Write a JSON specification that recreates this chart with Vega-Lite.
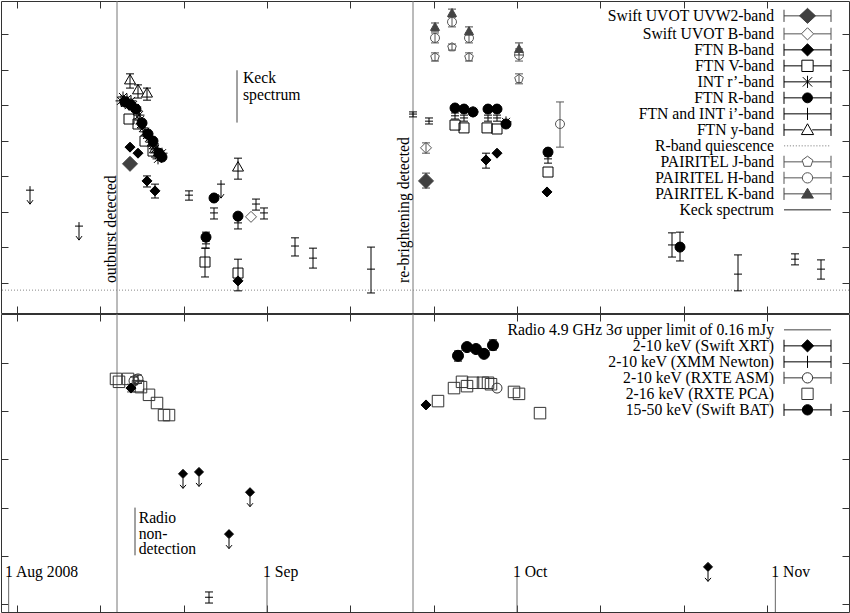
{
"$schema":"https://vega.github.io/schema/vega-lite/v6.json",
"padding":0,
"spacing":1,
"bounds":"flush",
"background":"white",
"config":{"view":{"stroke":"#333","strokeWidth":1},"axis":{"minExtent":0},"font":"Liberation Serif"},
"datasets":{
"top":[
{"s":"Swift UVOT UVW2-band","t":54693.56,"m":16.65},
{"s":"Swift UVOT UVW2-band","t":54729.08,"m":17.13,"lo":16.91,"hi":17.33},
{"s":"Swift UVOT B-band","t":54708.08,"m":18.14},
{"s":"Swift UVOT B-band","t":54729.08,"m":16.2,"lo":16.06,"hi":16.35},
{"s":"FTN V-band","t":54693.44,"m":15.39},
{"s":"FTN V-band","t":54694.52,"m":15.53},
{"s":"FTN V-band","t":54695.36,"m":16.01},
{"s":"FTN V-band","t":54696.32,"m":16.29},
{"s":"FTN V-band","t":54702.56,"m":19.41,"lo":19.02,"hi":19.83},
{"s":"FTN V-band","t":54706.52,"m":19.72,"lo":19.33,"hi":20.22},
{"s":"FTN V-band","t":54732.56,"m":15.56},
{"s":"FTN V-band","t":54733.64,"m":15.64},
{"s":"FTN V-band","t":54736.4,"m":15.64},
{"s":"FTN V-band","t":54737.6,"m":15.67},
{"s":"FTN V-band","t":54743.72,"m":16.88},
{"s":"INT r’-band","t":54692.48,"m":14.88},
{"s":"INT r’-band","t":54692.72,"m":14.77},
{"s":"INT r’-band","t":54692.96,"m":14.94},
{"s":"INT r’-band","t":54693.2,"m":14.83},
{"s":"INT r’-band","t":54693.44,"m":15.0},
{"s":"INT r’-band","t":54693.68,"m":14.88},
{"s":"INT r’-band","t":54693.92,"m":15.0},
{"s":"INT r’-band","t":54694.16,"m":15.08},
{"s":"INT r’-band","t":54694.4,"m":15.16},
{"s":"INT r’-band","t":54694.64,"m":15.28},
{"s":"INT r’-band","t":54694.76,"m":15.42},
{"s":"INT r’-band","t":54694.88,"m":15.53},
{"s":"INT r’-band","t":54695.12,"m":15.64},
{"s":"INT r’-band","t":54695.36,"m":15.75},
{"s":"INT r’-band","t":54695.6,"m":15.84},
{"s":"INT r’-band","t":54695.84,"m":15.92},
{"s":"INT r’-band","t":54696.08,"m":16.04},
{"s":"INT r’-band","t":54696.32,"m":16.12},
{"s":"INT r’-band","t":54696.56,"m":16.23},
{"s":"INT r’-band","t":54696.8,"m":16.32},
{"s":"INT r’-band","t":54697.04,"m":16.4},
{"s":"INT r’-band","t":54697.28,"m":16.46},
{"s":"INT r’-band","t":54697.4,"m":16.35},
{"s":"INT r’-band","t":54696.92,"m":16.51},
{"s":"INT r’-band","t":54734.72,"m":15.19},
{"s":"INT r’-band","t":54738.68,"m":15.47},
{"s":"FTN R-band","t":54692.96,"m":14.91},
{"s":"FTN R-band","t":54693.68,"m":15.0},
{"s":"FTN R-band","t":54694.28,"m":15.11},
{"s":"FTN R-band","t":54695.0,"m":15.5},
{"s":"FTN R-band","t":54695.72,"m":15.81},
{"s":"FTN R-band","t":54696.32,"m":16.01},
{"s":"FTN R-band","t":54697.04,"m":16.35},
{"s":"FTN R-band","t":54697.4,"m":16.46},
{"s":"FTN R-band","t":54702.68,"m":18.71,"lo":18.57,"hi":18.82},
{"s":"FTN R-band","t":54703.64,"m":17.61},
{"s":"FTN R-band","t":54706.52,"m":18.12},
{"s":"FTN R-band","t":54732.56,"m":15.08},
{"s":"FTN R-band","t":54733.64,"m":15.11},
{"s":"FTN R-band","t":54734.72,"m":15.19},
{"s":"FTN R-band","t":54736.52,"m":15.11},
{"s":"FTN R-band","t":54737.6,"m":15.11},
{"s":"FTN R-band","t":54738.68,"m":15.53},
{"s":"FTN R-band","t":54743.72,"m":16.32},
{"s":"FTN R-band","t":54759.56,"m":18.99,"lo":18.57,"hi":19.38},
{"s":"FTN B-band","t":54693.56,"m":16.18},
{"s":"FTN B-band","t":54694.52,"m":16.35},
{"s":"FTN B-band","t":54695.6,"m":17.13,"lo":16.99,"hi":17.3},
{"s":"FTN B-band","t":54696.56,"m":17.41,"lo":17.22,"hi":17.61},
{"s":"FTN B-band","t":54706.52,"m":19.94},
{"s":"FTN B-band","t":54736.28,"m":16.54,"lo":16.35,"hi":16.77},
{"s":"FTN B-band","t":54737.6,"m":16.35},
{"s":"FTN B-band","t":54743.6,"m":17.44},
{"s":"FTN and INT i’-band","t":54700.64,"m":17.53,"lo":17.41,"hi":17.67},
{"s":"FTN and INT i’-band","t":54703.64,"m":18.03,"lo":17.89,"hi":18.2},
{"s":"FTN and INT i’-band","t":54702.68,"m":18.9,"lo":18.79,"hi":19.02},
{"s":"FTN and INT i’-band","t":54706.52,"m":18.31,"lo":18.2,"hi":18.48},
{"s":"FTN and INT i’-band","t":54708.68,"m":17.78,"lo":17.64,"hi":17.95},
{"s":"FTN and INT i’-band","t":54709.64,"m":18.03,"lo":17.89,"hi":18.2},
{"s":"FTN and INT i’-band","t":54713.36,"m":18.96,"lo":18.73,"hi":19.24},
{"s":"FTN and INT i’-band","t":54715.52,"m":19.3,"lo":19.02,"hi":19.58},
{"s":"FTN and INT i’-band","t":54722.48,"m":19.61,"lo":18.99,"hi":20.28},
{"s":"FTN and INT i’-band","t":54727.52,"m":15.25,"lo":15.19,"hi":15.33},
{"s":"FTN and INT i’-band","t":54729.44,"m":15.45,"lo":15.36,"hi":15.53},
{"s":"FTN and INT i’-band","t":54732.56,"m":15.3,"lo":15.22,"hi":15.39},
{"s":"FTN and INT i’-band","t":54733.64,"m":15.36,"lo":15.28,"hi":15.45},
{"s":"FTN and INT i’-band","t":54736.52,"m":15.36,"lo":15.28,"hi":15.45},
{"s":"FTN and INT i’-band","t":54737.6,"m":15.36,"lo":15.28,"hi":15.45},
{"s":"FTN and INT i’-band","t":54743.72,"m":16.51,"lo":16.43,"hi":16.63},
{"s":"FTN and INT i’-band","t":54758.6,"m":18.93,"lo":18.59,"hi":19.27},
{"s":"FTN and INT i’-band","t":54766.52,"m":19.75,"lo":19.21,"hi":20.22},
{"s":"FTN and INT i’-band","t":54773.36,"m":19.33,"lo":19.18,"hi":19.49},
{"s":"FTN and INT i’-band","t":54776.48,"m":19.61,"lo":19.35,"hi":19.89},
{"s":"FTN and INT i’-band","t":54681.56,"m":17.39,"ul":true},
{"s":"FTN and INT i’-band","t":54687.44,"m":18.4,"ul":true},
{"s":"FTN and INT i’-band","t":54704.48,"m":17.22,"ul":true},
{"s":"FTN y-band","t":54693.56,"m":14.29,"lo":14.12,"hi":14.52},
{"s":"FTN y-band","t":54694.52,"m":14.57,"lo":14.43,"hi":14.8},
{"s":"FTN y-band","t":54695.6,"m":14.66,"lo":14.52,"hi":14.86},
{"s":"FTN y-band","t":54696.56,"m":16.23,"lo":16.09,"hi":16.46},
{"s":"FTN y-band","t":54706.52,"m":16.74,"lo":16.49,"hi":17.08},
{"s":"PAIRITEL J-band","t":54730.16,"m":13.65,"lo":13.53,"hi":13.76},
{"s":"PAIRITEL J-band","t":54732.2,"m":13.37,"lo":13.28,"hi":13.45},
{"s":"PAIRITEL J-band","t":54734.24,"m":13.65,"lo":13.53,"hi":13.76},
{"s":"PAIRITEL J-band","t":54740.24,"m":14.26,"lo":14.12,"hi":14.4},
{"s":"PAIRITEL H-band","t":54730.16,"m":13.11,"lo":12.97,"hi":13.25},
{"s":"PAIRITEL H-band","t":54732.2,"m":12.66,"lo":12.52,"hi":12.8},
{"s":"PAIRITEL H-band","t":54734.24,"m":13.11,"lo":12.97,"hi":13.25},
{"s":"PAIRITEL H-band","t":54740.24,"m":13.59,"lo":13.42,"hi":13.76},
{"s":"PAIRITEL H-band","t":54745.16,"m":15.53,"lo":14.91,"hi":16.18},
{"s":"PAIRITEL K-band","t":54730.16,"m":12.8,"lo":12.69,"hi":12.92},
{"s":"PAIRITEL K-band","t":54732.2,"m":12.41,"lo":12.3,"hi":12.52},
{"s":"PAIRITEL K-band","t":54734.24,"m":12.92,"lo":12.8,"hi":13.03},
{"s":"PAIRITEL K-band","t":54740.24,"m":13.42,"lo":13.25,"hi":13.59}
],
"bottom":[
{"s":"2-16 keV (RXTE PCA)","t":54691.88,"f":-8.33},
{"s":"2-16 keV (RXTE PCA)","t":54692.24,"f":-8.39},
{"s":"2-16 keV (RXTE PCA)","t":54693.32,"f":-8.33},
{"s":"2-16 keV (RXTE PCA)","t":54694.52,"f":-8.48},
{"s":"2-16 keV (RXTE PCA)","t":54694.88,"f":-8.5},
{"s":"2-16 keV (RXTE PCA)","t":54695.84,"f":-8.66},
{"s":"2-16 keV (RXTE PCA)","t":54696.8,"f":-8.83},
{"s":"2-16 keV (RXTE PCA)","t":54697.64,"f":-9.08},
{"s":"2-16 keV (RXTE PCA)","t":54698.24,"f":-9.08},
{"s":"2-16 keV (RXTE PCA)","t":54730.52,"f":-8.79},
{"s":"2-16 keV (RXTE PCA)","t":54732.44,"f":-8.52},
{"s":"2-16 keV (RXTE PCA)","t":54733.4,"f":-8.39},
{"s":"2-16 keV (RXTE PCA)","t":54734.0,"f":-8.48},
{"s":"2-16 keV (RXTE PCA)","t":54734.72,"f":-8.41},
{"s":"2-16 keV (RXTE PCA)","t":54735.92,"f":-8.41},
{"s":"2-16 keV (RXTE PCA)","t":54736.52,"f":-8.41},
{"s":"2-16 keV (RXTE PCA)","t":54736.88,"f":-8.44},
{"s":"2-16 keV (RXTE PCA)","t":54739.64,"f":-8.6},
{"s":"2-16 keV (RXTE PCA)","t":54740.24,"f":-8.64},
{"s":"2-16 keV (RXTE PCA)","t":54742.76,"f":-9.04},
{"s":"2-10 keV (RXTE ASM)","t":54694.04,"f":-8.37,"lo":-8.45,"hi":-8.29},
{"s":"2-10 keV (RXTE ASM)","t":54694.52,"f":-8.33,"lo":-8.42,"hi":-8.25},
{"s":"2-10 keV (RXTE ASM)","t":54737.6,"f":-8.52},
{"s":"2-10 keV (Swift XRT)","t":54693.68,"f":-8.52,"lo":-8.6,"hi":-8.44},
{"s":"2-10 keV (Swift XRT)","t":54729.08,"f":-8.87},
{"s":"2-10 keV (Swift XRT)","t":54699.92,"f":-10.3,"ul":true},
{"s":"2-10 keV (Swift XRT)","t":54701.84,"f":-10.26,"ul":true},
{"s":"2-10 keV (Swift XRT)","t":54705.44,"f":-11.55,"ul":true},
{"s":"2-10 keV (Swift XRT)","t":54707.96,"f":-10.68,"ul":true},
{"s":"2-10 keV (Swift XRT)","t":54762.92,"f":-12.23,"ul":true},
{"s":"2-10 keV (XMM Newton)","t":54703.04,"f":-12.86,"lo":-12.98,"hi":-12.75},
{"s":"15-50 keV (Swift BAT)","t":54732.92,"f":-7.85,"lo":-7.96,"hi":-7.75},
{"s":"15-50 keV (Swift BAT)","t":54734.0,"f":-7.67},
{"s":"15-50 keV (Swift BAT)","t":54735.08,"f":-7.71},
{"s":"15-50 keV (Swift BAT)","t":54736.04,"f":-7.81},
{"s":"15-50 keV (Swift BAT)","t":54737.12,"f":-7.63,"lo":-7.73,"hi":-7.52}
]
},
"vconcat":[
{
"width":848,"height":312,
"resolve":{"scale":{"shape":"independent","fill":"independent","stroke":"independent"},"axis":{"x":"independent","y":"independent"}},
"layer":[
{"data":{"values":[{"event":"outburst detected","t":54692.0},{"event":"re-brightening detected","t":54727.52}]},
 "mark":{"type":"rule","color":"#777","strokeWidth":1},
 "encoding":{"x":{"field":"t","type":"quantitative","scale":{"domain":[54678.08,54779.84],"nice":false,"zero":false},"axis":{"orient":"bottom","values":[54680,54690,54700,54710,54720,54730,54740,54750,54760,54770],"labels":false,"domain":false,"grid":false,"tickSize":-7,"tickColor":"#333","title":null}}}},
{"data":{"values":[{"level":"R-band quiescence","m":20.2}]},
 "mark":{"type":"rule","color":"#888","strokeDash":[1,2],"strokeWidth":1},
 "encoding":{"y":{"field":"m","type":"quantitative","scale":{"domain":[12.072,20.843],"reverse":true,"nice":false,"zero":false},"axis":{"orient":"left","values":[13,14,15,16,17,18,19,20],"labels":false,"domain":false,"grid":false,"tickSize":-7,"tickColor":"#333","title":null}}}},
{"data":{"name":"top"},
 "transform":[{"filter":"isValid(datum.lo)"}],
 "mark":{"type":"rule","strokeWidth":1},
 "encoding":{
  "x":{"field":"t","type":"quantitative","scale":{"domain":[54678.08,54779.84],"nice":false,"zero":false},"axis":{"orient":"top","values":[54680,54690,54700,54710,54720,54730,54740,54750,54760,54770],"labels":false,"domain":false,"grid":false,"tickSize":-7,"tickColor":"#333","title":null}},
  "y":{"field":"lo","type":"quantitative","scale":{"domain":[12.072,20.843],"reverse":true,"nice":false,"zero":false},"axis":{"orient":"right","values":[13,14,15,16,17,18,19,20],"labels":false,"domain":false,"grid":false,"tickSize":-7,"tickColor":"#333","title":null}},
  "y2":{"field":"hi"},
  "color":{"field":"s","type":"nominal","scale":{"domain":["Swift UVOT UVW2-band","Swift UVOT B-band","FTN B-band","FTN V-band","INT r’-band","FTN R-band","FTN and INT i’-band","FTN y-band","R-band quiescence","PAIRITEL J-band","PAIRITEL H-band","PAIRITEL K-band","Keck spectrum"],"range":["#404040","#555","black","black","black","black","black","black","#888","#555","#555","#444","#222"]},"legend":null}}},
{"data":{"name":"top"},
 "transform":[{"filter":"isValid(datum.lo)"},{"fold":["lo","hi"],"as":["end","val"]}],
 "mark":{"type":"tick","orient":"horizontal","size":8,"thickness":1,"opacity":1},
 "encoding":{
  "x":{"field":"t","type":"quantitative","scale":{"domain":[54678.08,54779.84],"nice":false,"zero":false},"axis":null},
  "y":{"field":"val","type":"quantitative","scale":{"domain":[12.072,20.843],"reverse":true,"nice":false,"zero":false},"axis":null},
  "color":{"field":"s","type":"nominal","scale":{"domain":["Swift UVOT UVW2-band","Swift UVOT B-band","FTN B-band","FTN V-band","INT r’-band","FTN R-band","FTN and INT i’-band","FTN y-band","R-band quiescence","PAIRITEL J-band","PAIRITEL H-band","PAIRITEL K-band","Keck spectrum"],"range":["#404040","#555","black","black","black","black","black","black","#888","#555","#555","#444","#222"]},"legend":null}}},
{"data":{"name":"top"},
 "transform":[{"filter":"!datum.ul"}],
 "mark":{"type":"point","filled":true,"opacity":1,"size":100,"strokeWidth":1},
 "encoding":{
  "x":{"field":"t","type":"quantitative","scale":{"domain":[54678.08,54779.84],"nice":false,"zero":false},"axis":null},
  "y":{"field":"m","type":"quantitative","scale":{"domain":[12.072,20.843],"reverse":true,"nice":false,"zero":false},"axis":null},
  "shape":{"field":"s","type":"nominal","scale":{"domain":["Swift UVOT UVW2-band","Swift UVOT B-band","FTN B-band","FTN V-band","INT r’-band","FTN R-band","FTN and INT i’-band","FTN y-band","R-band quiescence","PAIRITEL J-band","PAIRITEL H-band","PAIRITEL K-band","Keck spectrum"],"range":["M0,-1.5L1.5,0L0,1.5L-1.5,0Z","M0,-1.1L1.1,0L0,1.1L-1.1,0Z","M0,-1L1,0L0,1L-1,0Z","M-1,-1H1V1H-1Z","M0,-1.1V1.1M-1.1,0H1.1M-0.8,-0.8L0.8,0.8M-0.8,0.8L0.8,-0.8","M1,0A1,1,0,1,1,-1,0A1,1,0,1,1,1,0Z","M-0.8,0H0.8","M0,-1.1L1.1,0.8H-1.1Z","M0,0","M0,-0.9L0.86,-0.28L0.53,0.73L-0.53,0.73L-0.86,-0.28Z","M0.9,0A0.9,0.9,0,1,1,-0.9,0A0.9,0.9,0,1,1,0.9,0Z","M0,-0.9L0.9,0.7H-0.9Z","M0,0"]},"legend":null},
  "fill":{"field":"s","type":"nominal","scale":{"domain":["Swift UVOT UVW2-band","Swift UVOT B-band","FTN B-band","FTN V-band","INT r’-band","FTN R-band","FTN and INT i’-band","FTN y-band","R-band quiescence","PAIRITEL J-band","PAIRITEL H-band","PAIRITEL K-band","Keck spectrum"],"range":["#404040","transparent","black","transparent","transparent","black","transparent","transparent","transparent","transparent","transparent","#444","transparent"]},"legend":null},
  "stroke":{"field":"s","type":"nominal","scale":{"domain":["Swift UVOT UVW2-band","Swift UVOT B-band","FTN B-band","FTN V-band","INT r’-band","FTN R-band","FTN and INT i’-band","FTN y-band","R-band quiescence","PAIRITEL J-band","PAIRITEL H-band","PAIRITEL K-band","Keck spectrum"],"range":["#404040","#555","black","black","black","black","black","black","#888","#555","#555","#444","#222"]},"legend":null}}},
{"data":{"name":"top"},
 "transform":[{"filter":"datum.ul"}],
 "mark":{"type":"point","shape":"M0,-0.8V2.8M-0.8,0H0.8M-0.6,2L0,2.8M0,2.8L0.6,2","size":100,"stroke":"black","strokeWidth":1,"fill":"transparent","opacity":1},
 "encoding":{
  "x":{"field":"t","type":"quantitative","scale":{"domain":[54678.08,54779.84],"nice":false,"zero":false},"axis":null},
  "y":{"field":"m","type":"quantitative","scale":{"domain":[12.072,20.843],"reverse":true,"nice":false,"zero":false},"axis":null}}},
{"data":{"name":"top"},
 "transform":[{"filter":"false"}],
 "mark":{"type":"point","filled":true,"opacity":1},
 "encoding":{
  "x":{"field":"t","type":"quantitative","scale":{"domain":[54678.08,54779.84],"nice":false,"zero":false},"axis":null},
  "y":{"field":"m","type":"quantitative","scale":{"domain":[12.072,20.843],"reverse":true,"nice":false,"zero":false},"axis":null},
  "shape":{"field":"s","type":"nominal","scale":{"domain":["Swift UVOT UVW2-band","Swift UVOT B-band","FTN B-band","FTN V-band","INT r’-band","FTN R-band","FTN and INT i’-band","FTN y-band","R-band quiescence","PAIRITEL J-band","PAIRITEL H-band","PAIRITEL K-band","Keck spectrum"],"range":[
   "M-4.7,0H4.7M-4.7,-1.22V1.22M4.7,-1.22V1.22M0,-1.5L1.6,0L0,1.5L-1.6,0Z",
   "M-4.7,0H-1.22M1.22,0H4.7M-4.7,-1.22V1.22M4.7,-1.22V1.22M0,-1.22L1.22,0L0,1.22L-1.22,0Z",
   "M-4.7,0H4.7M-4.7,-1.22V1.22M4.7,-1.22V1.22M0,-1.22L1.22,0L0,1.22L-1.22,0Z",
   "M-4.7,0H-1.13M1.13,0H4.7M-4.7,-1.22V1.22M4.7,-1.22V1.22M-1.13,-1.13H1.13V1.13H-1.13Z",
   "M-4.7,0H4.7M-4.7,-1.22V1.22M4.7,-1.22V1.22M0,-1.22V1.22M-0.94,-0.94L0.94,0.94M-0.94,0.94L0.94,-0.94",
   "M-4.7,0H4.7M-4.7,-1.22V1.22M4.7,-1.22V1.22M0.99,0A0.99,0.99,0,1,1,-0.99,0A0.99,0.99,0,1,1,0.99,0Z",
   "M-4.7,0H4.7M-4.7,-1.22V1.22M4.7,-1.22V1.22M0,-1.22V1.22",
   "M-4.7,0H-0.94M0.94,0H4.7M-4.7,-1.22V1.22M4.7,-1.22V1.22M0,-1.22L1.22,0.94H-1.22Z",
   "M-4.7,0h0.24M-4.11,0h0.24M-3.53,0h0.24M-2.94,0h0.24M-2.35,0h0.24M-1.76,0h0.24M-1.18,0h0.24M-0.59,0h0.24M0,0h0.24M0.59,0h0.24M1.18,0h0.24M1.76,0h0.24M2.35,0h0.24M2.94,0h0.24M3.53,0h0.24M4.11,0h0.24",
   "M-4.7,0H-1.08M1.08,0H4.7M-4.7,-1.22V1.22M4.7,-1.22V1.22M0,-1.13L1.08,-0.33L0.66,0.89L-0.66,0.89L-1.08,-0.33Z",
   "M-4.7,0H-1.03M1.03,0H4.7M-4.7,-1.22V1.22M4.7,-1.22V1.22M1.03,0A1.03,1.03,0,1,1,-1.03,0A1.03,1.03,0,1,1,1.03,0Z",
   "M-4.7,0H4.7M-4.7,-1.22V1.22M4.7,-1.22V1.22M0,-1.13L1.18,0.85H-1.18Z",
   "M-4.7,0H4.7"]},
   "legend":{"title":null,"orient":"none","legendX":798.65,"legendY":7,"labelAlign":"right","labelOffset":-41.35,"labelFont":"Liberation Serif","labelFontSize":15.7,"labelColor":"black","labelLimit":500,"symbolSize":100,"symbolStrokeWidth":1,"symbolOpacity":1,"rowPadding":-1.9,"padding":0,"offset":0,"labelBaseline":"middle"}},
  "fill":{"field":"s","type":"nominal","scale":{"domain":["Swift UVOT UVW2-band","Swift UVOT B-band","FTN B-band","FTN V-band","INT r’-band","FTN R-band","FTN and INT i’-band","FTN y-band","R-band quiescence","PAIRITEL J-band","PAIRITEL H-band","PAIRITEL K-band","Keck spectrum"],"range":["#404040","transparent","black","transparent","transparent","black","transparent","transparent","transparent","transparent","transparent","#444","transparent"]},
   "legend":{"title":null,"orient":"none","legendX":798.65,"legendY":7,"labelAlign":"right","labelOffset":-41.35,"labelFont":"Liberation Serif","labelFontSize":15.7,"labelColor":"black","labelLimit":500,"symbolSize":100,"symbolStrokeWidth":1,"symbolOpacity":1,"rowPadding":-1.9,"padding":0,"offset":0,"labelBaseline":"middle"}},
  "stroke":{"field":"s","type":"nominal","scale":{"domain":["Swift UVOT UVW2-band","Swift UVOT B-band","FTN B-band","FTN V-band","INT r’-band","FTN R-band","FTN and INT i’-band","FTN y-band","R-band quiescence","PAIRITEL J-band","PAIRITEL H-band","PAIRITEL K-band","Keck spectrum"],"range":["#404040","#555","black","black","black","black","black","black","#888","#555","#555","#444","#222"]},
   "legend":{"title":null,"orient":"none","legendX":798.65,"legendY":7,"labelAlign":"right","labelOffset":-41.35,"labelFont":"Liberation Serif","labelFontSize":15.7,"labelColor":"black","labelLimit":500,"symbolSize":100,"symbolStrokeWidth":1,"symbolOpacity":1,"rowPadding":-1.9,"padding":0,"offset":0,"labelBaseline":"middle"}}}},
{"data":{"values":[{"note":"Keck spectrum","t":54706.4,"m1":14.02,"m2":15.49}]},
 "mark":{"type":"rule","color":"#444","strokeWidth":1},
 "encoding":{
  "x":{"field":"t","type":"quantitative","scale":{"domain":[54678.08,54779.84],"nice":false,"zero":false},"axis":null},
  "y":{"field":"m1","type":"quantitative","scale":{"domain":[12.072,20.843],"reverse":true,"nice":false,"zero":false},"axis":null},
  "y2":{"field":"m2"}}},
{"data":{"values":[{"text":"Keck","t":54707.12,"m":14.37},{"text":"spectrum","t":54707.12,"m":14.85}]},
 "mark":{"type":"text","font":"Liberation Serif","fontSize":15.7,"align":"left","baseline":"alphabetic","color":"black"},
 "encoding":{
  "x":{"field":"t","type":"quantitative","scale":{"domain":[54678.08,54779.84],"nice":false,"zero":false},"axis":null},
  "y":{"field":"m","type":"quantitative","scale":{"domain":[12.072,20.843],"reverse":true,"nice":false,"zero":false},"axis":null},
  "text":{"field":"text"}}},
{"data":{"values":[{"text":"outburst detected","t":54691.88,"m":20.0},{"text":"re-brightening detected","t":54726.98,"m":20.0}]},
 "mark":{"type":"text","font":"Liberation Serif","fontSize":15.7,"align":"left","baseline":"alphabetic","angle":270,"color":"black"},
 "encoding":{
  "x":{"field":"t","type":"quantitative","scale":{"domain":[54678.08,54779.84],"nice":false,"zero":false},"axis":null},
  "y":{"field":"m","type":"quantitative","scale":{"domain":[12.072,20.843],"reverse":true,"nice":false,"zero":false},"axis":null},
  "text":{"field":"text"}}}
]
},
{
"width":848,"height":298,
"resolve":{"scale":{"shape":"independent","fill":"independent","stroke":"independent"},"axis":{"x":"independent","y":"independent"}},
"layer":[
{"data":{"values":[{"date":"1 Aug 2008","t":54679,"f1":-12.43,"f2":-13.166},{"date":"1 Sep","t":54710,"f1":-12.43,"f2":-13.166},{"date":"1 Oct","t":54740,"f1":-12.43,"f2":-13.166},{"date":"1 Nov","t":54771,"f1":-12.43,"f2":-13.166}]},
 "mark":{"type":"rule","color":"#666","strokeWidth":1},
 "encoding":{
  "x":{"field":"t","type":"quantitative","scale":{"domain":[54678.08,54779.84],"nice":false,"zero":false},"axis":{"orient":"bottom","values":[54680,54690,54700,54710,54720,54730,54740,54750,54760,54770],"labels":false,"domain":false,"grid":false,"tickSize":-7,"tickColor":"#333","title":null}},
  "y":{"field":"f1","type":"quantitative","scale":{"domain":[-13.166,-6.983],"nice":false,"zero":false},"axis":{"orient":"left","values":[-8,-9,-10,-11,-12,-13],"labels":false,"domain":false,"grid":false,"tickSize":-7,"tickColor":"#333","title":null}},
  "y2":{"field":"f2"}}},
{"data":{"values":[{"event":"outburst detected","t":54692.0},{"event":"re-brightening detected","t":54727.52}]},
 "mark":{"type":"rule","color":"#777","strokeWidth":1},
 "encoding":{"x":{"field":"t","type":"quantitative","scale":{"domain":[54678.08,54779.84],"nice":false,"zero":false},"axis":null}}},
{"data":{"name":"bottom"},
 "transform":[{"filter":"isValid(datum.lo)"}],
 "mark":{"type":"rule","strokeWidth":1},
 "encoding":{
  "x":{"field":"t","type":"quantitative","scale":{"domain":[54678.08,54779.84],"nice":false,"zero":false},"axis":{"orient":"top","values":[54680,54690,54700,54710,54720,54730,54740,54750,54760,54770],"labels":false,"domain":false,"grid":false,"tickSize":-7,"tickColor":"#333","title":null}},
  "y":{"field":"lo","type":"quantitative","scale":{"domain":[-13.166,-6.983],"nice":false,"zero":false},"axis":{"orient":"right","values":[-8,-9,-10,-11,-12,-13],"labels":false,"domain":false,"grid":false,"tickSize":-7,"tickColor":"#333","title":null}},
  "y2":{"field":"hi"},
  "color":{"field":"s","type":"nominal","scale":{"domain":["Radio 4.9 GHz 3σ upper limit of 0.16 mJy","2-10 keV (Swift XRT)","2-10 keV (XMM Newton)","2-10 keV (RXTE ASM)","2-16 keV (RXTE PCA)","15-50 keV (Swift BAT)"],"range":["#444","black","black","#333","#333","black"]},"legend":null}}},
{"data":{"name":"bottom"},
 "transform":[{"filter":"isValid(datum.lo)"},{"fold":["lo","hi"],"as":["end","val"]}],
 "mark":{"type":"tick","orient":"horizontal","size":8,"thickness":1,"opacity":1},
 "encoding":{
  "x":{"field":"t","type":"quantitative","scale":{"domain":[54678.08,54779.84],"nice":false,"zero":false},"axis":null},
  "y":{"field":"val","type":"quantitative","scale":{"domain":[-13.166,-6.983],"nice":false,"zero":false},"axis":null},
  "color":{"field":"s","type":"nominal","scale":{"domain":["Radio 4.9 GHz 3σ upper limit of 0.16 mJy","2-10 keV (Swift XRT)","2-10 keV (XMM Newton)","2-10 keV (RXTE ASM)","2-16 keV (RXTE PCA)","15-50 keV (Swift BAT)"],"range":["#444","black","black","#333","#333","black"]},"legend":null}}},
{"data":{"name":"bottom"},
 "transform":[{"filter":"!datum.ul"}],
 "mark":{"type":"point","filled":true,"opacity":1,"size":100,"strokeWidth":1},
 "encoding":{
  "x":{"field":"t","type":"quantitative","scale":{"domain":[54678.08,54779.84],"nice":false,"zero":false},"axis":null},
  "y":{"field":"f","type":"quantitative","scale":{"domain":[-13.166,-6.983],"nice":false,"zero":false},"axis":null},
  "shape":{"field":"s","type":"nominal","scale":{"domain":["Radio 4.9 GHz 3σ upper limit of 0.16 mJy","2-10 keV (Swift XRT)","2-10 keV (XMM Newton)","2-10 keV (RXTE ASM)","2-16 keV (RXTE PCA)","15-50 keV (Swift BAT)"],"range":["M0,0","M0,-1L1,0L0,1L-1,0Z","M-0.8,0H0.8","M1,0A1,1,0,1,1,-1,0A1,1,0,1,1,1,0Z","M-1.15,-1.15H1.15V1.15H-1.15Z","M1.1,0A1.1,1.1,0,1,1,-1.1,0A1.1,1.1,0,1,1,1.1,0Z"]},"legend":null},
  "fill":{"field":"s","type":"nominal","scale":{"domain":["Radio 4.9 GHz 3σ upper limit of 0.16 mJy","2-10 keV (Swift XRT)","2-10 keV (XMM Newton)","2-10 keV (RXTE ASM)","2-16 keV (RXTE PCA)","15-50 keV (Swift BAT)"],"range":["transparent","black","transparent","transparent","transparent","black"]},"legend":null},
  "stroke":{"field":"s","type":"nominal","scale":{"domain":["Radio 4.9 GHz 3σ upper limit of 0.16 mJy","2-10 keV (Swift XRT)","2-10 keV (XMM Newton)","2-10 keV (RXTE ASM)","2-16 keV (RXTE PCA)","15-50 keV (Swift BAT)"],"range":["#444","black","black","#333","#333","black"]},"legend":null}}},
{"data":{"name":"bottom"},
 "transform":[{"filter":"datum.ul"}],
 "mark":{"type":"point","shape":"M0,-0.9L0.9,0L0,0.9L-0.9,0ZM0,0.9V2.9M-0.6,2.2L0,2.9M0,2.9L0.6,2.2","size":100,"stroke":"black","strokeWidth":1,"fill":"black","opacity":1},
 "encoding":{
  "x":{"field":"t","type":"quantitative","scale":{"domain":[54678.08,54779.84],"nice":false,"zero":false},"axis":null},
  "y":{"field":"f","type":"quantitative","scale":{"domain":[-13.166,-6.983],"nice":false,"zero":false},"axis":null}}},
{"data":{"name":"bottom"},
 "transform":[{"filter":"false"}],
 "mark":{"type":"point","filled":true,"opacity":1},
 "encoding":{
  "x":{"field":"t","type":"quantitative","scale":{"domain":[54678.08,54779.84],"nice":false,"zero":false},"axis":null},
  "y":{"field":"f","type":"quantitative","scale":{"domain":[-13.166,-6.983],"nice":false,"zero":false},"axis":null},
  "shape":{"field":"s","type":"nominal","scale":{"domain":["Radio 4.9 GHz 3σ upper limit of 0.16 mJy","2-10 keV (Swift XRT)","2-10 keV (XMM Newton)","2-10 keV (RXTE ASM)","2-16 keV (RXTE PCA)","15-50 keV (Swift BAT)"],"range":[
   "M-4.7,0H4.7",
   "M-4.7,0H4.7M-4.7,-1.22V1.22M4.7,-1.22V1.22M0,-1.22L1.22,0L0,1.22L-1.22,0Z",
   "M-4.7,0H4.7M-4.7,-1.22V1.22M4.7,-1.22V1.22M0,-1.22V1.22",
   "M-4.7,0H-1.03M1.03,0H4.7M-4.7,-1.22V1.22M4.7,-1.22V1.22M1.03,0A1.03,1.03,0,1,1,-1.03,0A1.03,1.03,0,1,1,1.03,0Z",
   "M-1.13,-1.13H1.13V1.13H-1.13Z",
   "M-4.7,0H4.7M-4.7,-1.22V1.22M4.7,-1.22V1.22M1.03,0A1.03,1.03,0,1,1,-1.03,0A1.03,1.03,0,1,1,1.03,0Z"]},
   "legend":{"title":null,"orient":"none","legendX":798.65,"legendY":8,"labelAlign":"right","labelOffset":-41.35,"labelFont":"Liberation Serif","labelFontSize":15.7,"labelColor":"black","labelLimit":500,"symbolSize":100,"symbolStrokeWidth":1,"symbolOpacity":1,"rowPadding":-1,"padding":0,"offset":0,"labelBaseline":"middle"}},
  "fill":{"field":"s","type":"nominal","scale":{"domain":["Radio 4.9 GHz 3σ upper limit of 0.16 mJy","2-10 keV (Swift XRT)","2-10 keV (XMM Newton)","2-10 keV (RXTE ASM)","2-16 keV (RXTE PCA)","15-50 keV (Swift BAT)"],"range":["transparent","black","transparent","transparent","transparent","black"]},
   "legend":{"title":null,"orient":"none","legendX":798.65,"legendY":8,"labelAlign":"right","labelOffset":-41.35,"labelFont":"Liberation Serif","labelFontSize":15.7,"labelColor":"black","labelLimit":500,"symbolSize":100,"symbolStrokeWidth":1,"symbolOpacity":1,"rowPadding":-1,"padding":0,"offset":0,"labelBaseline":"middle"}},
  "stroke":{"field":"s","type":"nominal","scale":{"domain":["Radio 4.9 GHz 3σ upper limit of 0.16 mJy","2-10 keV (Swift XRT)","2-10 keV (XMM Newton)","2-10 keV (RXTE ASM)","2-16 keV (RXTE PCA)","15-50 keV (Swift BAT)"],"range":["#444","black","black","#333","#333","black"]},
   "legend":{"title":null,"orient":"none","legendX":798.65,"legendY":8,"labelAlign":"right","labelOffset":-41.35,"labelFont":"Liberation Serif","labelFontSize":15.7,"labelColor":"black","labelLimit":500,"symbolSize":100,"symbolStrokeWidth":1,"symbolOpacity":1,"rowPadding":-1,"padding":0,"offset":0,"labelBaseline":"middle"}}}},
{"data":{"values":[{"note":"Radio non-detection","t":54694.16,"f1":-11.0,"f2":-11.99}]},
 "mark":{"type":"rule","color":"#444","strokeWidth":1},
 "encoding":{
  "x":{"field":"t","type":"quantitative","scale":{"domain":[54678.08,54779.84],"nice":false,"zero":false},"axis":null},
  "y":{"field":"f1","type":"quantitative","scale":{"domain":[-13.166,-6.983],"nice":false,"zero":false},"axis":null},
  "y2":{"field":"f2"}}},
{"data":{"values":[{"text":"Radio","t":54694.6,"f":-11.31},{"text":"non-","t":54694.6,"f":-11.65},{"text":"detection","t":54694.6,"f":-11.97},{"text":"1 Aug 2008","t":54678.56,"f":-12.43},{"text":"1 Sep","t":54709.52,"f":-12.43},{"text":"1 Oct","t":54739.52,"f":-12.43},{"text":"1 Nov","t":54770.52,"f":-12.43}]},
 "mark":{"type":"text","font":"Liberation Serif","fontSize":15.7,"align":"left","baseline":"alphabetic","color":"black"},
 "encoding":{
  "x":{"field":"t","type":"quantitative","scale":{"domain":[54678.08,54779.84],"nice":false,"zero":false},"axis":null},
  "y":{"field":"f","type":"quantitative","scale":{"domain":[-13.166,-6.983],"nice":false,"zero":false},"axis":null},
  "text":{"field":"text"}}}
]
}
]
}
